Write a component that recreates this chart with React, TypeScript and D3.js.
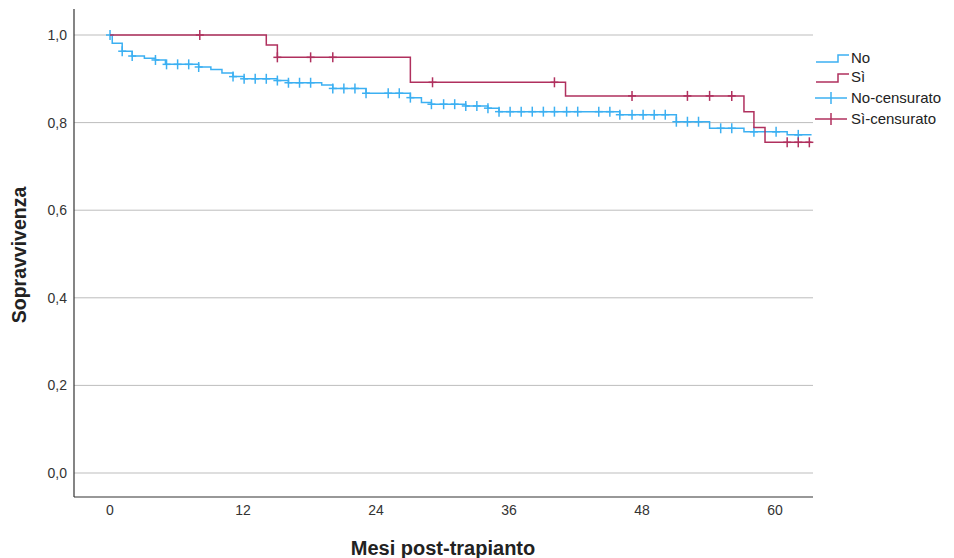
import React from "react";
import * as d3 from "d3";

// Kaplan-Meier step data (months, survival)
const noTimes = [0, 0.2, 1.1, 2.0, 3.1, 4.1, 5.0, 8.0, 9.1, 10.1, 11.1, 12.1, 15.1, 16.1, 19.1, 20.1, 23.1, 27.1, 28.1, 29.0, 32.1, 34.1, 35.1, 46.0, 51.1, 54.1, 57.2, 61.1];
const noSurv = [1.0, 0.981, 0.963, 0.952, 0.947, 0.943, 0.933, 0.927, 0.921, 0.913, 0.905, 0.9, 0.896, 0.891, 0.886, 0.878, 0.867, 0.857, 0.846, 0.842, 0.838, 0.833, 0.825, 0.818, 0.802, 0.787, 0.779, 0.772];
const noCensor = [0, 1.1, 2.0, 4.1, 5.1, 6.1, 7.1, 8.0, 11.1, 12.1, 13.1, 14.1, 15.1, 16.1, 17.1, 18.1, 20.1, 21.1, 22.1, 23.1, 25.1, 26.1, 27.1, 29.0, 30.1, 31.1, 32.1, 33.1, 34.1, 35.1, 36.1, 37.1, 38.1, 39.1, 40.1, 41.2, 42.2, 44.1, 45.1, 46.0, 47.1, 48.1, 49.1, 50.1, 51.1, 52.1, 53.1, 55.1, 56.1, 58.1, 60.1, 62.1];
const noEnd = 63.3;

const siTimes = [0, 14.1, 15.1, 27.1, 41.1, 57.2, 58.1, 59.1];
const siSurv = [1.0, 0.977, 0.949, 0.892, 0.861, 0.825, 0.789, 0.755];
const siCensor = [8.1, 15.1, 18.1, 20.1, 29.1, 40.1, 47.1, 52.1, 54.1, 56.1, 61.1, 62.1, 63.1];
const siEnd = 63.3;

const xTicks = [0, 12, 24, 36, 48, 60];
const yTicks = [0, 0.2, 0.4, 0.6, 0.8, 1.0];
const legendLabels = ["No", "Sì", "No-censurato", "Sì-censurato"];

const BLUE = "#3cb0f2";
const RED = "#b0305e";
const FONT = "'Liberation Sans', Arial, sans-serif";

function survAt(times: number[], surv: number[], t: number) {
  let v = surv[0];
  for (let i = 0; i < times.length; i++) if (times[i] <= t + 1e-9) v = surv[i];
  return v;
}

export default function App() {
  const x = d3.scaleLinear().domain([-3.25, 63.43]).range([74, 813]);
  const y = d3.scaleLinear().domain([0, 1]).range([473, 35]);
  const axisY = 497;
  const axisTop = 9;

  const line = d3
    .line<[number, number]>()
    .x((d) => x(d[0]))
    .y((d) => y(d[1]))
    .curve(d3.curveStepAfter);

  const pts = (times: number[], surv: number[], end: number): [number, number][] => {
    const p: [number, number][] = times.map((t, i) => [t, surv[i]]);
    p.push([end, surv[surv.length - 1]]);
    return p;
  };

  const fmt = (v: number) => v.toFixed(1).replace(".", ",");

  const censorMarks = (times: number[], surv: number[], cens: number[], color: string, key: string) =>
    cens.map((t, i) => {
      const cx = x(t);
      const cy = y(survAt(times, surv, t));
      return (
        <g key={key + i} stroke={color} strokeWidth={1.5}>
          <line x1={cx} x2={cx} y1={cy - 5} y2={cy + 5} />
          <line x1={cx - 4} x2={cx + 4} y1={cy} y2={cy} />
        </g>
      );
    });

  const legendRows = [58, 77, 98, 119];

  return (
    <svg
      width={954}
      height={558}
      style={{ position: "absolute", left: 0, top: 0, background: "#fff" }}
      fontFamily={FONT}
    >
      <rect x={0} y={0} width={954} height={558} fill="#fff" />
      {/* gridlines */}
      {yTicks.map((t) => (
        <line key={"g" + t} x1={74} x2={813} y1={y(t)} y2={y(t)} stroke="#bdbdbd" strokeWidth={1} />
      ))}
      {/* axes */}
      <line x1={74} x2={74} y1={axisTop} y2={axisY} stroke="#333" strokeWidth={1.2} />
      <line x1={74} x2={813} y1={axisY} y2={axisY} stroke="#333" strokeWidth={1.2} />
      {yTicks.map((t) => (
        <text key={"yl" + t} x={67} y={y(t)} dy="0.35em" textAnchor="end" fontSize={14} fill="#333">
          {fmt(t)}
        </text>
      ))}
      {xTicks.map((t) => (
        <text key={"xl" + t} x={x(t)} y={510} dy="0.35em" textAnchor="middle" fontSize={14} fill="#333">
          {t}
        </text>
      ))}
      <text x={443} y={548} dy="0.35em" textAnchor="middle" fontSize={20} fontWeight="bold" fill="#222">
        Mesi post-trapianto
      </text>
      <text
        transform={`translate(19,255) rotate(-90)`}
        dy="0.35em"
        textAnchor="middle"
        fontSize={19.5}
        fontWeight="bold"
        fill="#222"
      >
        Sopravvivenza
      </text>

      {/* curves */}
      <path d={line(pts(noTimes, noSurv, noEnd)) || ""} fill="none" stroke={BLUE} strokeWidth={1.5} />
      {censorMarks(noTimes, noSurv, noCensor, BLUE, "nc")}
      <path d={line(pts(siTimes, siSurv, siEnd)) || ""} fill="none" stroke={RED} strokeWidth={1.5} />
      {censorMarks(siTimes, siSurv, siCensor, RED, "sc")}

      {/* legend */}
      <g fill="none" strokeWidth={1.5}>
        <path d={`M816,${legendRows[0] + 4}H838V${legendRows[0] - 3}H849`} stroke={BLUE} />
        <path d={`M816,${legendRows[1] + 5}H838V${legendRows[1] - 3}H849`} stroke={RED} />
        <line x1={815} x2={847} y1={legendRows[2]} y2={legendRows[2]} stroke={BLUE} />
        <line x1={831} x2={831} y1={legendRows[2] - 6} y2={legendRows[2] + 6} stroke={BLUE} />
        <line x1={815} x2={847} y1={legendRows[3]} y2={legendRows[3]} stroke={RED} />
        <line x1={831} x2={831} y1={legendRows[3] - 6} y2={legendRows[3] + 6} stroke={RED} />
      </g>
      {legendLabels.map((l, i) => (
        <text key={l} x={851} y={legendRows[i]} dy="0.35em" fontSize={15} fill="#222">
          {l}
        </text>
      ))}
    </svg>
  );
}
